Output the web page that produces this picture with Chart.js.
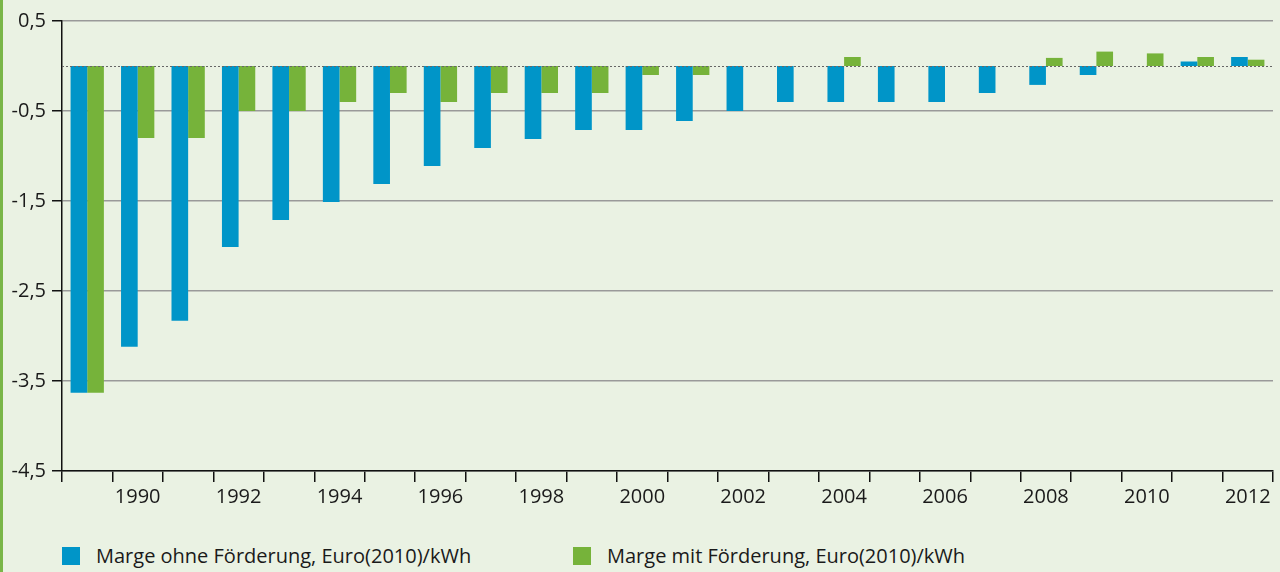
<!DOCTYPE html>
<html>
<head>
<meta charset="utf-8">
<script src="https://cdn.jsdelivr.net/npm/chart.js@4/dist/chart.umd.min.js"></script>
<style>
  html, body { margin: 0; padding: 0; }
  body { width: 1280px; height: 572px; background: #eaf2e3; position: relative; overflow: hidden; font-family: "Open Sans", sans-serif; }
  #leftbar { position: absolute; left: 0; top: 0; width: 3px; height: 572px; background: #7ab648; }
  #wrap { position: absolute; left: 0; top: 0; width: 1280px; height: 530px; }
  #legend { position: absolute; left: 62px; top: 543px; font-size: 20px; line-height: 26px; color: #1a1a1a; }
  .item { position: absolute; top: 0; white-space: nowrap; }
  .box { display: inline-block; width: 18px; height: 18px; vertical-align: -2px; margin-right: 16px; }
</style>
</head>
<body>
<div id="leftbar"></div>
<div id="wrap"><canvas id="canvas"></canvas></div>
<div id="legend">
  <div class="item" style="left:0"><span class="box" style="background:#0095c8"></span>Marge ohne Förderung, Euro(2010)/kWh</div>
  <div class="item" style="left:511px"><span class="box" style="background:#76b33a"></span>Marge mit Förderung, Euro(2010)/kWh</div>
</div>
<script>
var years = ['1989', '1990', '1991', '1992', '1993', '1994', '1995', '1996', '1997', '1998', '1999', '2000',
    '2001', '2002', '2003', '2004', '2005', '2006', '2007', '2008', '2009', '2010', '2011', '2012'];
var ohneFoerderung = [-3.63, -3.12, -2.83, -2.01, -1.71, -1.51, -1.31, -1.11, -0.91, -0.81, -0.71, -0.71,
    -0.61, -0.5, -0.4, -0.4, -0.4, -0.4, -0.3, -0.21, -0.1, 0, 0.05, 0.1];
var mitFoerderung = [-3.63, -0.8, -0.8, -0.5, -0.5, -0.4, -0.3, -0.4, -0.3, -0.3, -0.3, -0.1,
    -0.1, 0, 0, 0.1, 0, 0, 0, 0.09, 0.16, 0.14, 0.1, 0.07];
var yTicks = [0.5, -0.5, -1.5, -2.5, -3.5, -4.5];

// dotted line at zero
var zeroLine = {
    id: 'zeroLine',
    afterDatasetsDraw: function (chart) {
        var ctx = chart.ctx, y = chart.scales.y.getPixelForValue(0);
        ctx.save();
        ctx.strokeStyle = '#666';
        ctx.lineWidth = 1;
        ctx.setLineDash([2, 2]);
        ctx.beginPath();
        ctx.moveTo(chart.chartArea.left, Math.round(y) + 0.5);
        ctx.lineTo(chart.chartArea.right, Math.round(y) + 0.5);
        ctx.stroke();
        ctx.restore();
    }
};

var ctx = document.getElementById('canvas');
var myChart = new Chart(ctx, {
    type: 'bar',
    data: {
        labels: years,
        datasets: [
            {
                label: 'Marge ohne Förderung, Euro(2010)/kWh',
                data: ohneFoerderung,
                backgroundColor: '#0095c8',
                borderWidth: 0
            },
            {
                label: 'Marge mit Förderung, Euro(2010)/kWh',
                data: mitFoerderung,
                backgroundColor: '#76b33a',
                borderWidth: 0
            }
        ]
    },
    options: {
        responsive: true,
        maintainAspectRatio: false,
        animation: false,
        datasets: {
            bar: { categoryPercentage: 0.66, barPercentage: 1 }
        },
        layout: { padding: { top: 21, right: 7, left: 0, bottom: 0 } },
        plugins: {
            legend: { display: false },
            tooltip: { enabled: false }
        },
        scales: {
            x: {
                offset: true,
                afterFit: function (axis) { axis.height = 59; },
                grid: { offset: true, drawOnChartArea: false, tickLength: 11, tickColor: '#111', lineWidth: 1.5 },
                border: { color: '#111', width: 1.5 },
                ticks: {
                    autoSkip: false,
                    maxRotation: 0,
                    padding: 3,
                    color: '#1a1a1a',
                    font: { family: 'Open Sans', size: 20 },
                    callback: function (v, i) {
                        return (parseInt(years[i]) % 2 === 0) ? years[i] : '';
                    }
                }
            },
            y: {
                min: -4.5,
                max: 0.5,
                afterBuildTicks: function (axis) {
                    axis.ticks = yTicks.map(function (v) { return { value: v }; });
                },
                afterFit: function (axis) { axis.width = 62; },
                grid: { color: '#9a9a9a', tickColor: '#111', tickLength: 10, lineWidth: 1.5 },
                border: { color: '#111', width: 1.5 },
                ticks: {
                    padding: 6,
                    color: '#1a1a1a',
                    font: { family: 'Open Sans', size: 20 },
                    callback: function (v) {
                        return v.toFixed(1).replace('.', ',');
                    }
                }
            }
        }
    },
    plugins: [zeroLine]
});
</script>
</body>
</html>
